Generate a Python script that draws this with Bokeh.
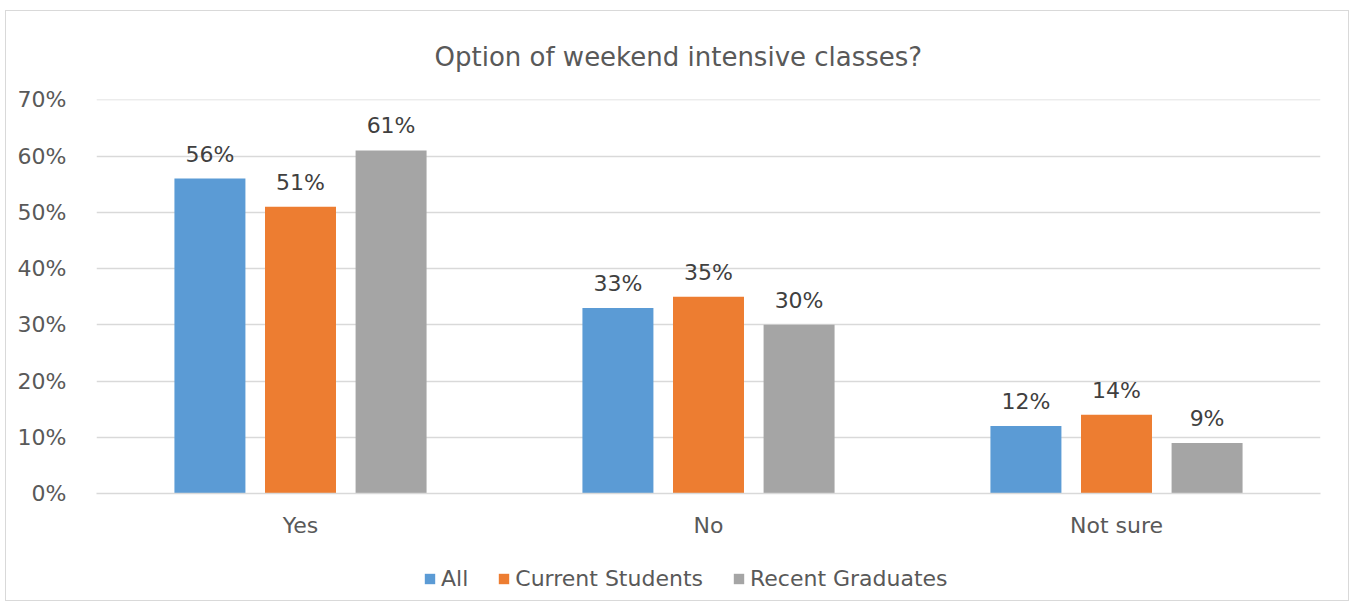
from bokeh.plotting import figure
from bokeh.layouts import column
from bokeh.models import ColumnDataSource, LabelSet, Legend, LegendItem, NumeralTickFormatter, FixedTicker
from bokeh.core.properties import value
from bokeh.transform import dodge
from bokeh.embed import file_html
from bokeh.resources import INLINE

categories = ["Yes", "No", "Not sure"]
series_names = ["All", "Current Students", "Recent Graduates"]
all_vals = [0.56, 0.33, 0.12]
current_vals = [0.51, 0.35, 0.14]
graduate_vals = [0.61, 0.30, 0.09]
y_ticks = [0, 0.1, 0.2, 0.3, 0.4, 0.5, 0.6, 0.7]
colors = ["#5B9BD5", "#ED7D31", "#A5A5A5"]

FONT = "DejaVu Sans"

p = figure(x_range=categories, y_range=(0, 0.7005), frame_width=1224, frame_height=394,
           output_backend="svg", toolbar_location=None,
           min_border_left=90, min_border_right=28, min_border_top=88, min_border_bottom=57)

p.title.text = "Option of weekend intensive classes?"
p.title.align = "left"
p.title.offset = 338
p.title.text_font = FONT
p.title.text_font_size = "26px"
p.title.text_font_style = "normal"
p.title.text_color = "#595959"
p.title.standoff = 55

offsets = [-0.222, 0.0, 0.222]
series = [all_vals, current_vals, graduate_vals]
sources = []
for name, vals, off, col in zip(series_names, series, offsets, colors):
    src = ColumnDataSource(dict(cat=categories, val=vals,
                                lab=[f"{round(v*100)}%" for v in vals]))
    sources.append(src)
    p.vbar(x=dodge("cat", off, range=p.x_range), top="val", width=0.174,
           source=src, fill_color=col, line_color=None)
    lbl = LabelSet(x=dodge("cat", off, range=p.x_range), y="val", text="lab", source=src,
                   text_align="center", text_baseline="bottom", y_offset=12,
                   text_font=value(FONT), text_font_size="22px", text_color="#404040")
    p.add_layout(lbl)

p.yaxis.ticker = FixedTicker(ticks=y_ticks)
p.yaxis.formatter = NumeralTickFormatter(format="0%")
p.yaxis.axis_line_color = None
p.yaxis.major_tick_line_color = None
p.yaxis.minor_tick_line_color = None
p.yaxis.major_label_text_font = FONT
p.yaxis.major_label_text_font_size = "22px"
p.yaxis.major_label_text_color = "#595959"
p.yaxis.major_label_standoff = 24

p.xaxis.axis_line_color = "#D9D9D9"
p.xaxis.axis_line_width = 1.5
p.xaxis.major_tick_line_color = None
p.xaxis.minor_tick_line_color = None
p.xaxis.major_label_text_font = FONT
p.xaxis.major_label_text_font_size = "22px"
p.xaxis.major_label_text_color = "#595959"
p.xaxis.major_label_standoff = 13

p.xgrid.grid_line_color = None
p.ygrid.grid_line_color = "#D9D9D9"
p.ygrid.grid_line_width = 1.5
p.outline_line_color = None

# legend strip: same series, drawn outside its visible y range so only the legend shows
lp = figure(x_range=categories, y_range=(1, 2), frame_width=1342, frame_height=50,
            output_backend="svg", toolbar_location=None,
            x_axis_location=None, y_axis_location=None,
            min_border_left=0, min_border_right=0, min_border_top=0, min_border_bottom=0)
lp.outline_line_color = None
lp.xgrid.visible = False
lp.ygrid.visible = False
leg_renderers = []
for src, off, col in zip(sources, offsets, colors):
    r = lp.vbar(x=dodge("cat", off, range=lp.x_range), top="val", width=0.174,
                source=src, fill_color=col, line_color=None)
    leg_renderers.append(r)

legend = Legend(items=[LegendItem(label=n, renderers=[r]) for n, r in zip(series_names, leg_renderers)],
                orientation="horizontal", location=(417, 9),
                label_text_font=FONT, label_text_font_size="22px", label_text_color="#595959",
                glyph_width=13, glyph_height=13, label_standoff=5, spacing=29,
                border_line_color=None, background_fill_alpha=0, margin=0, padding=0)
lp.add_layout(legend)

layout = column(p, lp, spacing=0)
layout.styles = {"border": "1px solid #D9D9D9", "margin-left": "5px", "margin-top": "10px"}

open("out.html", "w").write(file_html(layout, INLINE))
